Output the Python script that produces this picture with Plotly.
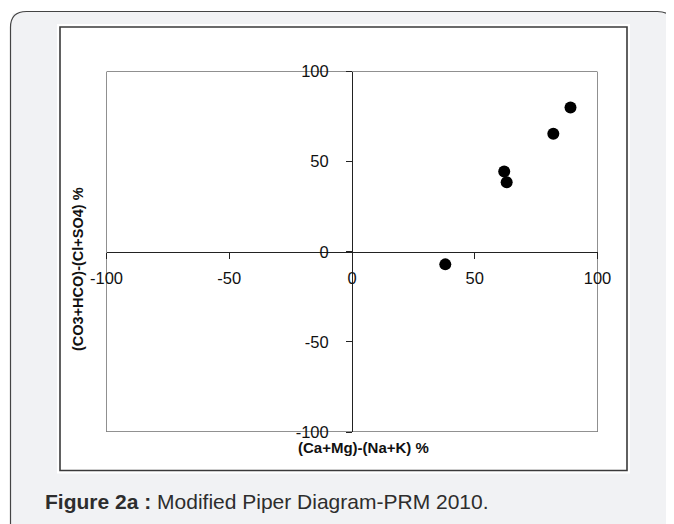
import plotly.graph_objects as go

# ---- data ----
x_vals = [38, 62, 63, 82, 89]
y_vals = [-7, 44.5, 38.5, 65.5, 80]
tick_vals = [-100, -50, 0, 50, 100]
tick_text = ["-100", "-50", "0", "50", "100"]
x_title = "(Ca+Mg)-(Na+K) %"
y_title = "(CO3+HCO)-(Cl+SO4) %"
caption_bold = "Figure 2a :"
caption_rest = " Modified Piper Diagram-PRM 2010."

W, H = 674, 524
# the page body adds an 8px margin around the figure
OFF = 8


def px(x):
    """paper x fraction for a target picture x (pixels)"""
    return max(0.0, x - OFF) / W


def py(y):
    """paper y fraction for a target picture y (pixels)"""
    return 1 - max(0.0, y - OFF) / H


SANS = "Liberation Sans, Arial, sans-serif"

fig = go.Figure()
fig.add_trace(go.Scatter(
    x=x_vals, y=y_vals, mode="markers",
    marker=dict(color="black", size=12),
    showlegend=False, hoverinfo="x+y",
))

# plot area geometry (target picture pixels)
L, R, T, B = 106.5, 597.5, 71.5, 432
X0, Y0 = 352, 252

fig.update_layout(
    width=W, height=H,
    margin=dict(l=0, r=0, t=0, b=0, autoexpand=False),
    paper_bgcolor="white",
    plot_bgcolor="rgba(0,0,0,0)",
    xaxis=dict(
        domain=[px(L), px(R)], range=[-100, 100],
        anchor="free", position=py(Y0),
        showline=True, linecolor="#222", linewidth=1,
        ticks="outside", ticklen=6, tickcolor="#222", tickwidth=1,
        tickvals=tick_vals, ticktext=tick_text,
        ticklabelstandoff=5,
        tickfont=dict(family=SANS, size=16.5, color="#111"),
        showgrid=False, zeroline=False, fixedrange=True,
    ),
    yaxis=dict(
        domain=[py(B), py(T)], range=[-100, 100],
        anchor="free", position=px(X0),
        showline=True, linecolor="#222", linewidth=1,
        ticks="outside", ticklen=6, tickcolor="#222", tickwidth=1,
        tickvals=tick_vals, ticktext=tick_text,
        ticklabelstandoff=14,
        tickfont=dict(family=SANS, size=16.5, color="#111"),
        showgrid=False, zeroline=False, fixedrange=True,
    ),
)

shapes = []
# grey card: fill, then rounded outline on left, top and right edges
r = 16
cl, ct, cr = 10.5, 11.5, 673.5
shapes.append(dict(type="rect", xref="paper", yref="paper",
                   x0=px(cl + 2), x1=px(cr - 1), y0=0, y1=py(ct + 2),
                   fillcolor="#f1f2f4", line=dict(width=0), layer="below"))
fx0, fx1, ft = px(cl), px(cr), py(ct)
rx, ry = r / W, r / H
path = (
    f"M {fx0},0 L {fx0},{ft - ry} Q {fx0},{ft} {fx0 + rx},{ft} "
    f"L {fx1 - rx},{ft} Q {fx1},{ft} {fx1},{ft - ry} L {fx1},0 Z"
)
shapes.append(dict(type="path", xref="paper", yref="paper", path=path,
                   fillcolor="#f1f2f4", line=dict(color="#444", width=1.2),
                   layer="below"))
# white image area
shapes.append(dict(type="rect", xref="paper", yref="paper",
                   x0=px(57), x1=px(630), y0=py(473.5), y1=py(24),
                   fillcolor="white", line=dict(width=0), layer="below"))
# image frame
shapes.append(dict(type="rect", xref="paper", yref="paper",
                   x0=px(60), x1=px(627), y0=py(470.5), y1=py(27),
                   fillcolor="rgba(0,0,0,0)", line=dict(color="#3a3a3a", width=1.6),
                   layer="below"))
# plot box
shapes.append(dict(type="rect", xref="x", yref="y",
                   x0=-100, x1=100, y0=-100, y1=100,
                   fillcolor="rgba(0,0,0,0)", line=dict(color="#222", width=1),
                   layer="below"))
fig.update_layout(shapes=shapes)

annotations = [
    dict(text=f"<b>{x_title}</b>", x=px(363), y=py(447), xref="paper", yref="paper",
         showarrow=False, xanchor="center", yanchor="middle",
         font=dict(family=SANS, size=15, color="#111")),
    dict(text=f"<b>{y_title}</b>", x=px(78), y=py(269), xref="paper", yref="paper",
         showarrow=False, xanchor="center", yanchor="middle", textangle=-90,
         font=dict(family=SANS, size=14.5, color="#111")),
    dict(text=f"<b>{caption_bold}</b>{caption_rest}", x=px(43), y=py(501),
         xref="paper", yref="paper", showarrow=False,
         xanchor="left", yanchor="middle",
         font=dict(family=SANS, size=21, color="#2d2d2d")),
]
fig.update_layout(annotations=annotations)

fig.write_html("out.html")
